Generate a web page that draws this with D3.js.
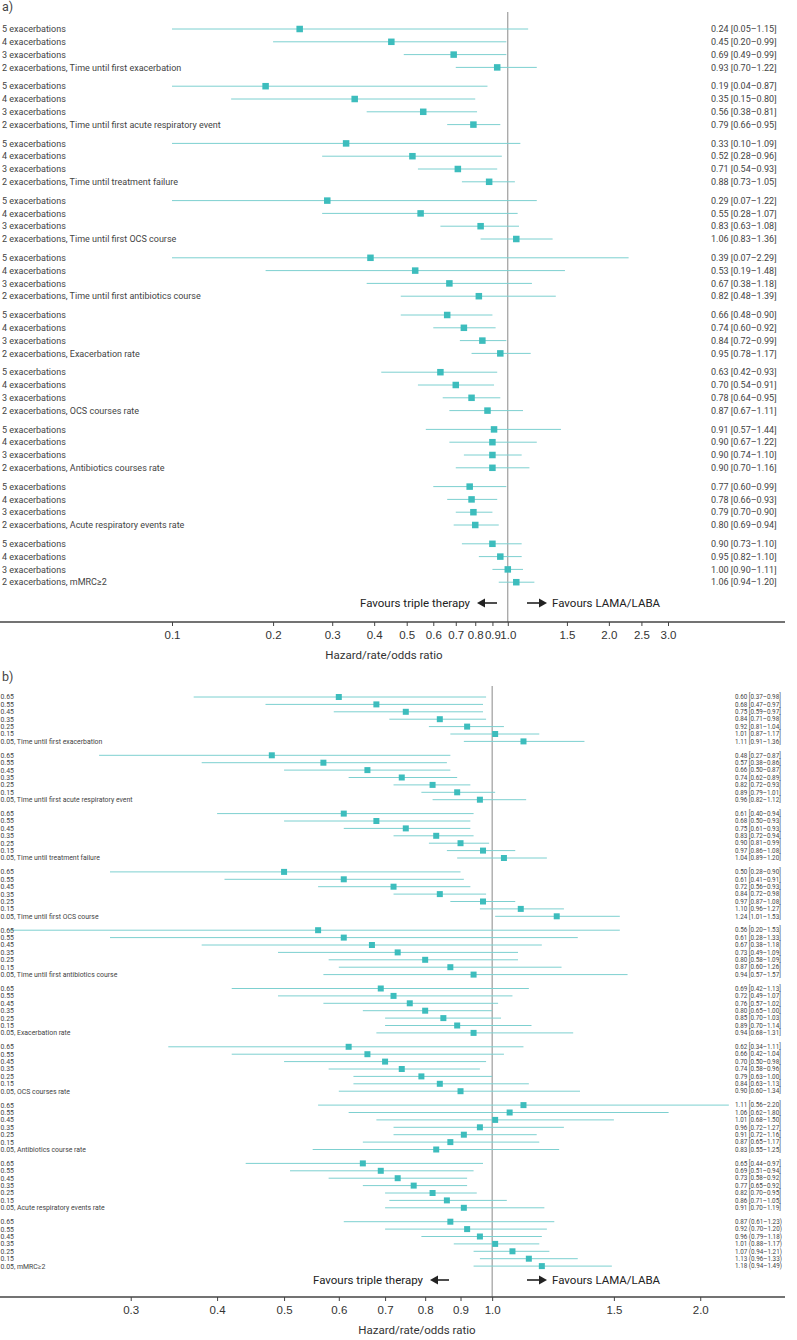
<!DOCTYPE html>
<html>
<head>
<meta charset="utf-8">
<script src="https://cdn.jsdelivr.net/npm/d3@7"></script>
<style>
body { margin: 0; background: #fff; }
svg { display: block; font-family: Roboto, "DejaVu Sans", sans-serif; }
</style>
</head>
<body>
<svg id="chart" width="797" height="1340"></svg>
<script>
// panel a
var outcomesA = ["Time until first exacerbation", "Time until first acute respiratory event",
  "Time until treatment failure", "Time until first OCS course", "Time until first antibiotics course",
  "Exacerbation rate", "OCS courses rate", "Antibiotics courses rate", "Acute respiratory events rate", "mMRC\u22652"];
var rowsA = ["5 exacerbations", "4 exacerbations", "3 exacerbations", "2 exacerbations"];
var estA = [
  [0.24, 0.45, 0.69, 0.93], [0.19, 0.35, 0.56, 0.79], [0.33, 0.52, 0.71, 0.88], [0.29, 0.55, 0.83, 1.06],
  [0.39, 0.53, 0.67, 0.82], [0.66, 0.74, 0.84, 0.95], [0.63, 0.70, 0.78, 0.87], [0.91, 0.90, 0.90, 0.90],
  [0.77, 0.78, 0.79, 0.80], [0.90, 0.95, 1.00, 1.06]];
var lowA = [
  [0.05, 0.20, 0.49, 0.70], [0.04, 0.15, 0.38, 0.66], [0.10, 0.28, 0.54, 0.73], [0.07, 0.28, 0.63, 0.83],
  [0.07, 0.19, 0.38, 0.48], [0.48, 0.60, 0.72, 0.78], [0.42, 0.54, 0.64, 0.67], [0.57, 0.67, 0.74, 0.70],
  [0.60, 0.66, 0.70, 0.69], [0.73, 0.82, 0.90, 0.94]];
var highA = [
  [1.15, 0.99, 0.99, 1.22], [0.87, 0.80, 0.81, 0.95], [1.09, 0.96, 0.93, 1.05], [1.22, 1.07, 1.08, 1.36],
  [2.29, 1.48, 1.18, 1.39], [0.90, 0.92, 0.99, 1.17], [0.93, 0.91, 0.95, 1.11], [1.44, 1.22, 1.10, 1.16],
  [0.99, 0.93, 0.90, 0.94], [1.10, 1.10, 1.11, 1.20]];
var ticksA = [0.1, 0.2, 0.3, 0.4, 0.5, 0.6, 0.7, 0.8, 0.9, 1.0, 1.5, 2.0, 2.5, 3.0];

// panel b
var outcomesB = ["Time until first exacerbation", "Time until first acute respiratory event",
  "Time until treatment failure", "Time until first OCS course", "Time until first antibiotics course",
  "Exacerbation rate", "OCS courses rate", "Antibiotics course rate", "Acute respiratory events rate", "mMRC\u22652"];
var rowsB = ["0.65", "0.55", "0.45", "0.35", "0.25", "0.15", "0.05"];
var estB = [
  [0.60, 0.68, 0.75, 0.84, 0.92, 1.01, 1.11], [0.48, 0.57, 0.66, 0.74, 0.82, 0.89, 0.96],
  [0.61, 0.68, 0.75, 0.83, 0.90, 0.97, 1.04], [0.50, 0.61, 0.72, 0.84, 0.97, 1.10, 1.24],
  [0.56, 0.61, 0.67, 0.73, 0.80, 0.87, 0.94], [0.69, 0.72, 0.76, 0.80, 0.85, 0.89, 0.94],
  [0.62, 0.66, 0.70, 0.74, 0.79, 0.84, 0.90], [1.11, 1.06, 1.01, 0.96, 0.91, 0.87, 0.83],
  [0.65, 0.69, 0.73, 0.77, 0.82, 0.86, 0.91], [0.87, 0.92, 0.96, 1.01, 1.07, 1.13, 1.18]];
var lowB = [
  [0.37, 0.47, 0.59, 0.71, 0.81, 0.87, 0.91], [0.27, 0.38, 0.50, 0.62, 0.72, 0.79, 0.82],
  [0.40, 0.50, 0.61, 0.72, 0.81, 0.86, 0.89], [0.28, 0.41, 0.56, 0.72, 0.87, 0.96, 1.01],
  [0.20, 0.28, 0.38, 0.49, 0.58, 0.60, 0.57], [0.42, 0.49, 0.57, 0.65, 0.70, 0.70, 0.68],
  [0.34, 0.42, 0.50, 0.58, 0.63, 0.63, 0.60], [0.56, 0.62, 0.68, 0.72, 0.72, 0.65, 0.55],
  [0.44, 0.51, 0.58, 0.65, 0.70, 0.71, 0.70], [0.61, 0.70, 0.79, 0.88, 0.94, 0.96, 0.94]];
var highB = [
  [0.98, 0.97, 0.97, 0.98, 1.04, 1.17, 1.36], [0.87, 0.86, 0.87, 0.89, 0.93, 1.01, 1.12],
  [0.94, 0.93, 0.93, 0.94, 0.99, 1.08, 1.20], [0.90, 0.91, 0.93, 0.98, 1.08, 1.27, 1.53],
  [1.53, 1.33, 1.18, 1.09, 1.09, 1.26, 1.57], [1.13, 1.07, 1.02, 1.00, 1.03, 1.14, 1.31],
  [1.11, 1.04, 0.98, 0.96, 1.00, 1.13, 1.34], [2.20, 1.80, 1.50, 1.27, 1.16, 1.17, 1.25],
  [0.97, 0.94, 0.92, 0.92, 0.95, 1.05, 1.19], [1.23, 1.20, 1.18, 1.17, 1.21, 1.33, 1.49]];
var bracketsB = ["[]", "[]", "[]", "[]", "[]", "[]", "[]", "[]", "[]", "()"];
var ticksB = [0.3, 0.4, 0.5, 0.6, 0.7, 0.8, 0.9, 1.0, 1.5, 2.0];

var svg = d3.select("#chart");
var teal = "#3dbdbd", tealLine = "#7dd0d0", ink = "#444";

function arrow(g, x0, x1, y) {
  // short shaft with a filled head at x1
  var dir = x1 > x0 ? 1 : -1;
  g.append("line").attr("x1", x0).attr("x2", x1 - dir * 4).attr("y1", y).attr("y2", y)
    .attr("stroke", "#222").attr("stroke-width", 1.6);
  g.append("path")
    .attr("d", "M" + x1 + "," + y + "L" + (x1 - dir * 8) + "," + (y - 4.5) + "L" + (x1 - dir * 8) + "," + (y + 4.5) + "Z")
    .attr("fill", "#222");
}

function drawPanel(p) {
  var g = svg.append("g");
  var x = d3.scaleLog().domain(p.domain).range(p.range).clamp(true);
  var y = function(gi, ri) { return p.top + gi * p.groupStep + ri * p.rowStep; };

  g.append("text").attr("x", 2).attr("y", p.tagY).attr("font-size", 12.5).attr("fill", ink).text(p.tag);

  // reference line at 1
  g.append("line").attr("x1", x(1)).attr("x2", x(1)).attr("y1", p.refTop).attr("y2", p.axisY)
    .attr("stroke", "#8a8a8a").attr("stroke-width", 1);

  var rows = [];
  p.outcomes.forEach(function(o, gi) {
    p.rows.forEach(function(r, ri) {
      rows.push({
        label: ri == p.rows.length - 1 ? r + ", " + o : r,
        est: p.est[gi][ri], lo: p.low[gi][ri], hi: p.high[gi][ri],
        br: p.brackets ? p.brackets[gi] : "[]",
        y: y(gi, ri)
      });
    });
  });

  g.selectAll(".ci").data(rows).enter().append("line")
    .attr("x1", function(d) { return x(d.lo); })
    .attr("x2", function(d) { return x(d.hi); })
    .attr("y1", function(d) { return d.y; })
    .attr("y2", function(d) { return d.y; })
    .attr("stroke", tealLine).attr("stroke-width", 1);

  g.selectAll(".pt").data(rows).enter().append("rect")
    .attr("x", function(d) { return x(d.est) - p.box / 2; })
    .attr("y", function(d) { return d.y - p.box / 2; })
    .attr("width", p.box).attr("height", p.box)
    .attr("fill", teal);

  g.selectAll(".lab").data(rows).enter().append("text")
    .attr("x", p.labelX).attr("y", function(d) { return d.y + p.labelFont * 0.36; })
    .attr("font-size", p.labelFont).attr("fill", ink)
    .text(function(d) { return d.label; });

  var f = d3.format(".2f");
  g.selectAll(".val").data(rows).enter().append("text")
    .attr("x", p.valueX).attr("y", function(d) { return d.y + p.valueFont * 0.36; })
    .attr("font-size", p.valueFont).attr("fill", ink)
    .text(function(d) { return f(d.est) + " " + d.br[0] + f(d.lo) + "\u2013" + f(d.hi) + d.br[1]; });

  // favours
  g.append("text").attr("x", p.favL).attr("y", p.favY + 4).attr("text-anchor", "end")
    .attr("font-size", 11.5).attr("fill", "#222").text("Favours triple therapy");
  arrow(g, p.arrL[1], p.arrL[0], p.favY);
  arrow(g, p.arrR[0], p.arrR[1], p.favY);
  g.append("text").attr("x", p.favR).attr("y", p.favY + 4)
    .attr("font-size", 11.5).attr("fill", "#222").text("Favours LAMA/LABA");

  // axis
  g.append("line").attr("x1", 0).attr("x2", 785).attr("y1", p.axisY).attr("y2", p.axisY)
    .attr("stroke", "#444").attr("stroke-width", 1.4);
  var ax = g.append("g").attr("transform", "translate(0," + p.axisY + ")")
    .call(d3.axisBottom(x).tickValues(p.ticks).tickFormat(d3.format(".1f")).tickSize(4).tickPadding(5));
  ax.select(".domain").remove();
  ax.selectAll("line").attr("stroke", "#444");
  ax.selectAll("text").attr("font-size", 11.5).attr("fill", "#333").attr("font-family", null);

  g.append("text").attr("x", p.titleX).attr("y", p.titleY).attr("text-anchor", "middle")
    .attr("font-size", 11.5).attr("fill", "#333").text("Hazard/rate/odds ratio");
}

drawPanel({
  tag: "a)", tagY: 11,
  outcomes: outcomesA, rows: rowsA, est: estA, low: lowA, high: highA, ticks: ticksA,
  domain: [0.1, 3], range: [172, 668],
  top: 29, groupStep: 57.2, rowStep: 12.8, box: 6.5,
  labelX: 2, labelFont: 9, valueX: 711, valueFont: 9,
  refTop: 12, axisY: 622,
  favY: 603, favL: 470, favR: 552, arrL: [477, 497], arrR: [527, 547],
  titleX: 384, titleY: 659
});

drawPanel({
  tag: "b)", tagY: 681,
  outcomes: outcomesB, rows: rowsB, est: estB, low: lowB, high: highB, ticks: ticksB, brackets: bracketsB,
  domain: [0.2, 2.6], range: [9, 779],
  top: 697, groupStep: 58.3, rowStep: 7.4, box: 6,
  labelX: 0.5, labelFont: 6.9, valueX: 735, valueFont: 6.3,
  refTop: 686, axisY: 1297,
  favY: 1280, favL: 423, favR: 552, arrL: [430, 449], arrR: [527, 547],
  titleX: 417, titleY: 1334
});
</script>
</body>
</html>
